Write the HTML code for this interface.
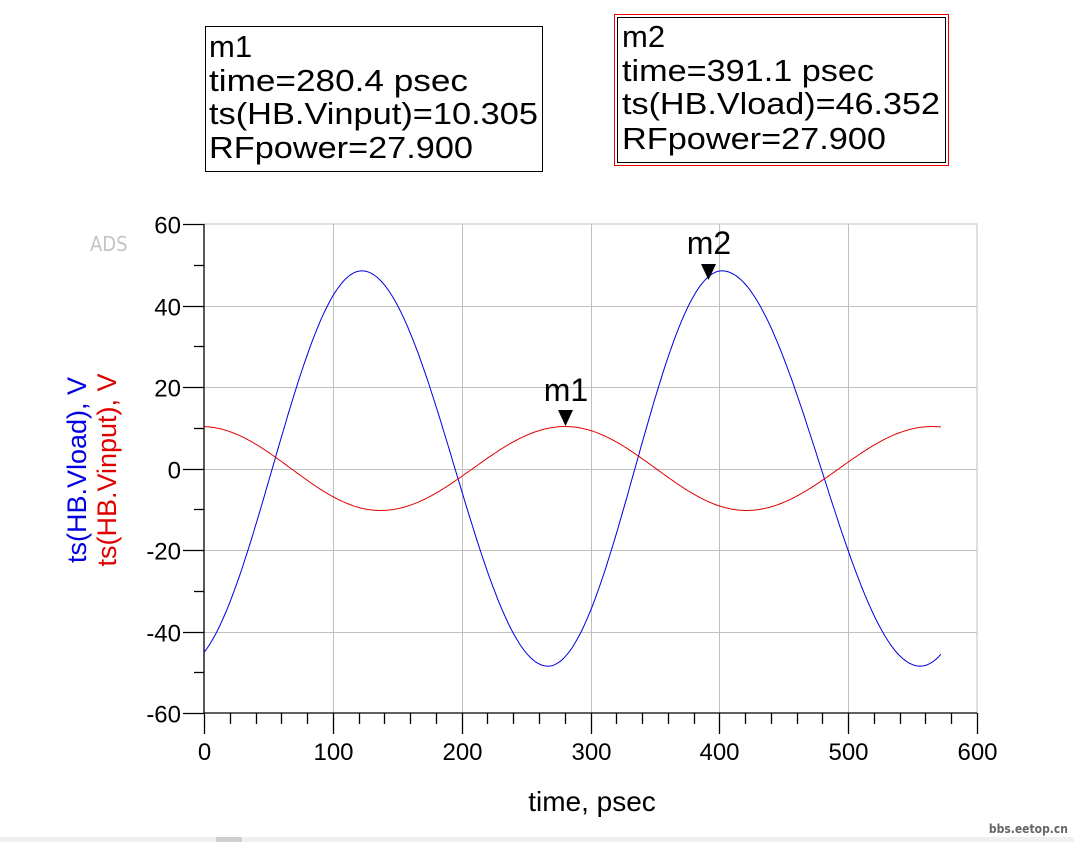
<!DOCTYPE html>
<html><head><meta charset="utf-8"><style>
html,body{margin:0;padding:0;background:#fff;}
svg{display:block;font-family:"Liberation Sans",Arial,sans-serif;}
</style></head><body>
<svg id="s" width="1074" height="842" viewBox="0 0 1074 842" xmlns="http://www.w3.org/2000/svg">
<rect width="1074" height="842" fill="#fff"/>
<rect x="205.5" y="26.5" width="337" height="145" fill="none" stroke="#000" stroke-width="1"/>
<g font-size="31" fill="#000">
<text x="209" y="57">m1</text>
<text x="209" y="91" textLength="259" lengthAdjust="spacingAndGlyphs">time=280.4 psec</text>
<text x="209" y="124" textLength="329" lengthAdjust="spacingAndGlyphs">ts(HB.Vinput)=10.305</text>
<text x="209" y="158" textLength="264" lengthAdjust="spacingAndGlyphs">RFpower=27.900</text>
</g>
<rect x="614.5" y="14.5" width="334" height="151" fill="none" stroke="#e00" stroke-width="1"/>
<rect x="617.5" y="17.5" width="328" height="145" fill="none" stroke="#000" stroke-width="1"/>
<g font-size="31" fill="#000">
<text x="622" y="47">m2</text>
<text x="622" y="81" textLength="252" lengthAdjust="spacingAndGlyphs">time=391.1 psec</text>
<text x="622" y="114" textLength="318" lengthAdjust="spacingAndGlyphs">ts(HB.Vload)=46.352</text>
<text x="622" y="149" textLength="264" lengthAdjust="spacingAndGlyphs">RFpower=27.900</text>
</g>
<text x="90" y="251" font-size="20" fill="#c4c4c4" font-family="'DejaVu Sans Condensed','Liberation Sans',sans-serif">ADS</text>
<g id="grid" stroke="#c0c0c0" stroke-width="1"></g>
<g id="axes" stroke="#000" stroke-width="1.3"></g>
<g id="lab" font-size="24" fill="#000"></g>
<path id="blue" fill="none" stroke="#0000e0" stroke-width="1"/>
<path id="red" fill="none" stroke="#e00000" stroke-width="1"/>
<polygon points="558,410 573,410 565.5,426" fill="#000"/>
<text x="566" y="401" font-size="32" text-anchor="middle">m1</text>
<polygon points="701,264 716,264 708.5,280" fill="#000"/>
<text x="709" y="254" font-size="32" text-anchor="middle">m2</text>
<text x="592" y="811" font-size="28" text-anchor="middle">time, psec</text>
<text transform="translate(86,470) rotate(-90)" font-size="27" fill="#0000e0" text-anchor="middle">ts(HB.Vload), V</text>
<text transform="translate(116,470) rotate(-90)" font-size="27" fill="#e00000" text-anchor="middle">ts(HB.Vinput), V</text>
<rect x="0" y="837" width="1074" height="5" fill="#f0f0f0"/>
<rect x="216" y="837" width="26" height="5" fill="#cfcfcf"/>
<text x="1068" y="833" font-size="12" fill="#666" text-anchor="end" font-weight="bold" font-family="'DejaVu Sans Condensed','Liberation Sans',sans-serif">bbs.eetop.cn</text>
</svg>
<script>
var X0=204,X1=977,Y0=224,Y1=713;
function sx(t){return X0+t*(X1-X0)/600;}
function sy(v){return Y1-(v+60)*(Y1-Y0)/120;}
var ns="http://www.w3.org/2000/svg";
function el(p,n,a,txt){var e=document.createElementNS(ns,n);for(var k in a)e.setAttribute(k,a[k]);if(txt!=null)e.textContent=txt;document.getElementById(p).appendChild(e);}
for(var i=1;i<6;i++){var x=Math.round(sx(i*100))+0.5;el("grid","line",{x1:x,y1:Y0,x2:x,y2:Y1});}
for(var v=-40;v<=40;v+=20){var y=Math.round(sy(v))+0.5;el("grid","line",{x1:X0,y1:y,x2:X1,y2:y});}
el("grid","rect",{x:X0,y:Y0,width:X1-X0,height:Y1-Y0,fill:"none",stroke:"#c0c0c0"});
el("axes","line",{x1:X0,y1:Y0,x2:X0,y2:Y1});
el("axes","line",{x1:X0,y1:Y1,x2:X1,y2:Y1});
for(var v=-60;v<=60;v+=10){var y=Math.round(sy(v))+0.5;var maj=(v%20==0);el("axes","line",{x1:maj?183:194,y1:y,x2:X0,y2:y});
 if(maj)el("lab","text",{x:181,y:y+9,"text-anchor":"end"},String(v));}
for(var t=0;t<=600;t+=20){var x=Math.round(sx(t))+0.5;var maj=(t%100==0);el("axes","line",{x1:x,y1:Y1,x2:x,y2:maj?734:724});
 if(maj)el("lab","text",{x:x,y:760,"text-anchor":"middle"},String(t));}
function interp(ext,t){for(var i=0;i<ext.length-1;i++){var a=ext[i],b=ext[i+1];if(t>=a[0]&&t<=b[0]){var f=(t-a[0])/(b[0]-a[0]);var c=(1-Math.cos(Math.PI*f))/2;return a[1]+(b[1]-a[1])*c;}}return 0;}
var BE=[[-16.6,-48.5],[122.6,48.5],[267,-48.5],[402,48.5],[556,-48.5],[700,48.5]];
var RE=[[-2,10.3],[137,-10.3],[280.4,10.3],[421,-10.3],[565,10.3],[710,-10.3]];
var b="",r="";
for(var t=0;t<=572;t+=1){b+=(t?"L":"M")+sx(t).toFixed(1)+","+sy(interp(BE,t)).toFixed(1);r+=(t?"L":"M")+sx(t).toFixed(1)+","+sy(interp(RE,t)).toFixed(1);}
document.getElementById("blue").setAttribute("d",b);
document.getElementById("red").setAttribute("d",r);
</script>
</body></html>
